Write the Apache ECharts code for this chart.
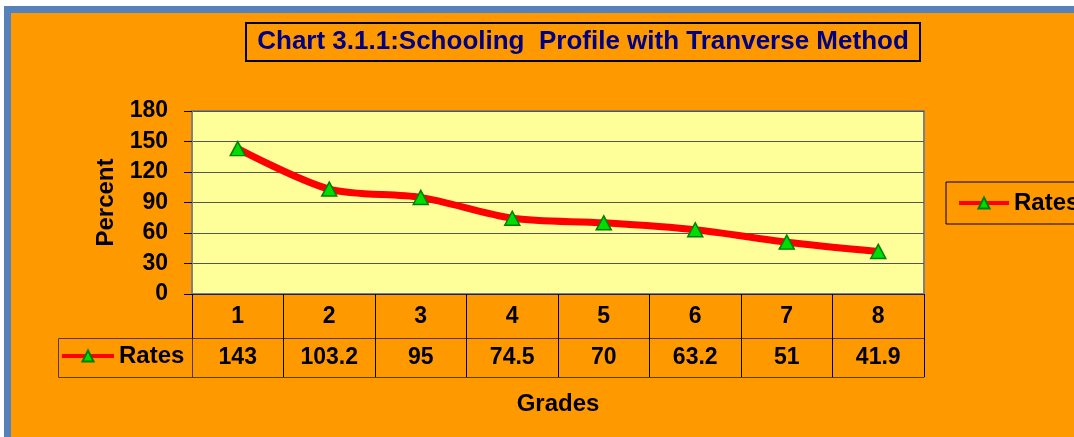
<!DOCTYPE html>
<html>
<head>
<meta charset="utf-8">
<script src="https://cdn.jsdelivr.net/npm/echarts@6/dist/echarts.min.js"></script>
<style>
  html, body { margin: 0; padding: 0; background: #fff; }
  #frame { position: absolute; left: 4px; top: 6px; width: 1063px; height: 424px;
           border-left: 7px solid #5582ba; border-top: 7px solid #5582ba; background: #ff9900; }
  #chart { position: absolute; left: 0; top: 0; width: 1074px; height: 437px; }
</style>
</head>
<body>
<div id="frame"></div>
<div id="chart"></div>
<script>
const titleText = 'Chart 3.1.1:Schooling  Profile with Tranverse Method';
const seriesName = 'Rates';
const grades = ['1', '2', '3', '4', '5', '6', '7', '8'];
const rates = [143, 103.2, 95, 74.5, 70, 63.2, 51, 41.9];
const yTicks = { min: 0, max: 180, interval: 30 };
const yName = 'Percent';
const xName = 'Grades';

const FONT = '"Liberation Sans", Arial, sans-serif';
const bold = (size, color) => ({ fontFamily: FONT, fontWeight: 'bold', fontSize: size, color: color || '#000' });

const chart = echarts.init(document.getElementById('chart'), null, { renderer: 'canvas' });
const G = { left: 192, top: 111, width: 732, height: 183 };
const tableLine = '#5a3c00';

chart.setOption({
  backgroundColor: 'transparent',
  animation: false,
  title: {
    text: titleText,
    left: 572, top: 23, textAlign: 'center',
    borderColor: '#000', borderWidth: 2,
    padding: [6, 11, 6, 11],
    textStyle: bold(26, '#000080')
  },
  legend: [
    {
      data: [seriesName], left: 946, top: 182,
      borderColor: '#000', borderWidth: 1,
      padding: [9, 60, 9, 11],
      itemWidth: 50, itemHeight: 14, itemGap: 0,
      lineStyle: { width: 4 },
      textStyle: bold(24)
    },
    {
      data: [seriesName], left: 60, top: 344,
      padding: 0,
      itemWidth: 52, itemHeight: 14,
      lineStyle: { width: 4 },
      textStyle: bold(24)
    }
  ],
  grid: {
    left: G.left, top: G.top, width: G.width, height: G.height,
    show: true, backgroundColor: '#ffff99', borderColor: '#808080', borderWidth: 2
  },
  xAxis: [
    {
      type: 'category', data: grades, position: 'bottom', boundaryGap: true,
      axisLine: { show: true, lineStyle: { color: '#222', width: 1 } },
      axisTick: { show: true, length: 83, lineStyle: { color: '#000', width: 1 } },
      axisLabel: { ...bold(23), margin: 11 },
      name: xName, nameLocation: 'middle', nameGap: 98,
      nameTextStyle: bold(24)
    },
    {
      type: 'category', data: rates.map(String), position: 'bottom', offset: 44,
      axisLine: { show: true, lineStyle: { color: tableLine, width: 1 } },
      axisTick: { show: false },
      axisLabel: { ...bold(23), margin: 8 }
    },
    {
      type: 'category', data: grades, position: 'bottom', offset: 83,
      axisLine: { show: true, lineStyle: { color: tableLine, width: 1 } },
      axisTick: { show: false },
      axisLabel: { show: false }
    }
  ],
  yAxis: {
    type: 'value', min: yTicks.min, max: yTicks.max, interval: yTicks.interval,
    axisLine: { show: true, lineStyle: { color: '#808080', width: 2 } },
    axisTick: { show: true, length: 8, lineStyle: { color: '#000' } },
    axisLabel: { ...bold(23), margin: 24 },
    splitLine: { show: true, lineStyle: { color: '#555', width: 1 } },
    name: yName, nameLocation: 'middle', nameGap: 67, nameRotate: 90,
    nameTextStyle: bold(24)
  },
  graphic: [
    {
      type: 'rect', silent: true, z: 100,
      shape: { x: 58.5, y: 338.5, width: 134, height: 39 },
      style: { fill: 'none', stroke: tableLine, lineWidth: 1 }
    }
  ],
  series: [
    {
      name: seriesName, type: 'line', data: rates, xAxisIndex: 0,
      smooth: 0.3,
      lineStyle: { color: '#ff0000', width: 7 },
      symbol: 'triangle', symbolSize: [15, 14],
      itemStyle: { color: '#00dd00', borderColor: '#008000', borderWidth: 1.5 }
    }
  ]
});
</script>
</body>
</html>
